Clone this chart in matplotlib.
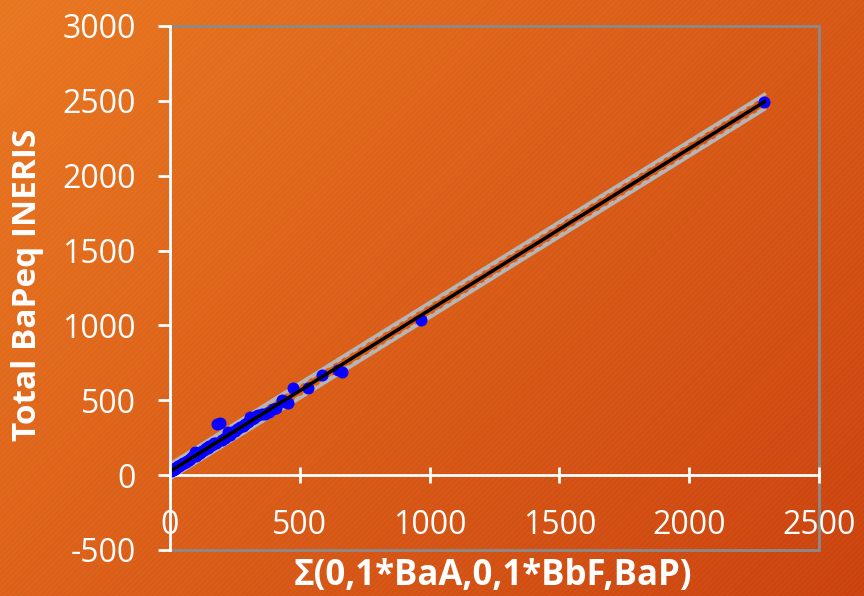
import numpy as np
import matplotlib
matplotlib.use("Agg")
import matplotlib.pyplot as plt
from matplotlib.patches import Rectangle

# measured samples (x: sum of BaA/BbF/BaP, y: total BaPeq)
xVals = [5, 8, 10, 12, 14, 16, 18, 20, 24, 28, 32, 36, 40, 45, 50, 55, 60, 66, 72, 78,
         85, 96, 100, 108, 115, 122, 130, 138, 145, 152, 160, 168, 176, 180, 192, 200,
         210, 224, 232, 240, 250, 260, 269, 280, 290, 300, 308, 315, 322, 330, 340, 353,
         365, 380, 395, 410, 430, 442, 455, 474, 530, 586, 648, 663, 965, 2290]
yVals = [28, 32, 34, 36, 40, 42, 44, 46, 50, 55, 58, 63, 66, 72, 78, 82, 90, 95, 104, 108,
         118, 156, 130, 142, 148, 160, 165, 178, 182, 195, 200, 212, 218, 340, 347, 235,
         250, 289, 270, 285, 292, 305, 323, 330, 340, 355, 390, 375, 380, 395, 400, 410,
         410, 420, 440, 450, 500, 489, 480, 585, 579, 667, 705, 690, 1035, 2490]

# regression line and bands
fitSlope = 1.078
fitIntercept = 25.0
predBand = 50.0
confBand = 40.0

xTicks = [0, 500, 1000, 1500, 2000, 2500]
yTicks = [-500, 0, 500, 1000, 1500, 2000, 2500, 3000]

fig = plt.figure(figsize=(8.64, 5.96), dpi=100)

# orange gradient background
bg = fig.add_axes([0, 0, 1, 1], zorder=0)
bg.set_axis_off()
gx, gy = np.meshgrid(np.linspace(0, 1, 300), np.linspace(0, 1, 200))
t = (0.6 * gx + 0.4 * gy)[..., None]
c0 = np.array([233, 119, 32]) / 255.0
c1 = np.array([203, 66, 14]) / 255.0
bg.imshow(c0 * (1 - t) + c1 * t, aspect="auto", extent=[0, 1, 0, 1], origin="upper")
bg.add_patch(Rectangle((0, 0), 1, 1, transform=bg.transAxes, fill=False,
                       hatch="//////", edgecolor=(1, 1, 1, 0.035), linewidth=0))
bg.set_xlim(0, 1)
bg.set_ylim(0, 1)

ax = fig.add_axes([170 / 864, 1 - 550 / 596, 649 / 864, 524 / 596], zorder=1)
ax.set_facecolor("none")
ax.set_xlim(0, 2500)
ax.set_ylim(-500, 3000)

lineX = np.array([min(xVals), max(xVals)])
lineY = fitSlope * lineX + fitIntercept
for off in (predBand, -predBand):
    ax.plot(lineX, lineY + off, color="#b5b5b5", lw=2.4, zorder=2)
for off in (confBand, -confBand):
    ax.plot(lineX, lineY + off, color="#b5b5b5", lw=2.0, ls=(0, (2, 1.5)), zorder=2)
ax.plot(lineX, lineY, color="black", lw=2.5, zorder=4)
ax.scatter(xVals, yVals, s=75, color="#0a00ff", zorder=3, linewidths=0)

# frame and axes lines
ax.add_patch(Rectangle((0, 0), 1, 1, transform=ax.transAxes, fill=False,
                       edgecolor="#8a8a8a", lw=2, clip_on=False, zorder=1))
for side in ("top", "right"):
    ax.spines[side].set_visible(False)
ax.spines["left"].set_color("white")
ax.spines["left"].set_linewidth(2)
ax.spines["left"].set_zorder(5)
ax.spines["bottom"].set_position(("data", 0))
ax.spines["bottom"].set_color("white")
ax.spines["bottom"].set_linewidth(2)

ax.set_xticks(xTicks)
ax.set_yticks(yTicks)
ax.set_xticklabels([str(v) for v in xTicks])
ax.set_yticklabels([str(v) for v in yTicks])
ax.tick_params(axis="x", direction="inout", length=11, width=2, color="white",
               labelcolor="white", labelsize=23, pad=19)
ax.tick_params(axis="y", direction="out", length=8.6, width=2, color="white",
               labelcolor="white", labelsize=23, pad=16)
for lab in ax.get_xticklabels() + ax.get_yticklabels():
    lab.set_fontfamily(["Open Sans", "DejaVu Sans"])

fig.text(28 / 864, 1 - 285 / 596, "Total BaPeq INERIS", rotation=90, color="white",
         fontsize=24, fontweight="bold", family=["Open Sans", "DejaVu Sans"],
         ha="center", va="center")
fig.text(493 / 864, 1 - 576 / 596, "\u03a3(0,1*BaA,0,1*BbF,BaP)", color="white",
         fontsize=25, fontweight="bold", family=["Open Sans", "DejaVu Sans"],
         ha="center", va="center")

fig.savefig("out.png", dpi=100)
